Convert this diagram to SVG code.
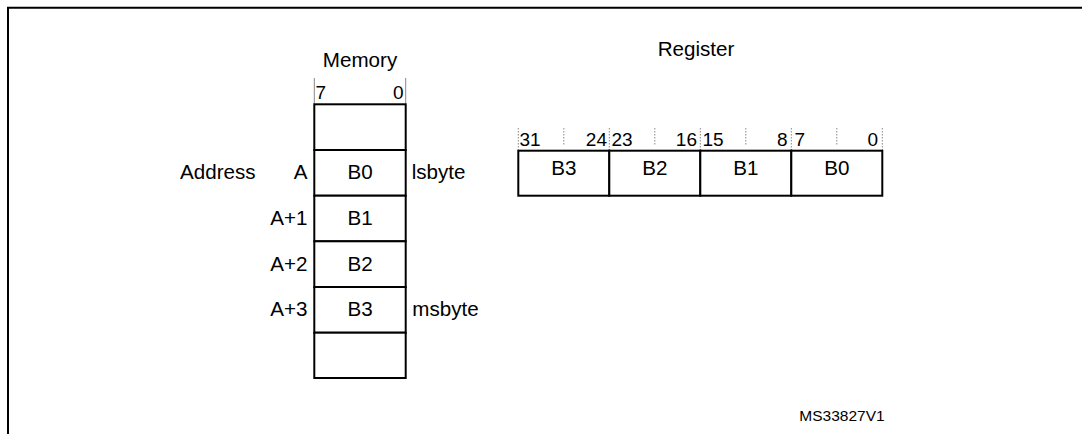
<svg xmlns="http://www.w3.org/2000/svg" width="1082" height="434" viewBox="0 0 1082 434">
<style>
text{font-family:"Liberation Sans",Arial,sans-serif;font-size:20.6px;fill:#000}
.c{text-anchor:middle}
.r{text-anchor:end}
.ruler{font-size:19px}
.box{fill:#fff;stroke:#000;stroke-width:2}
.tick{stroke:#888;stroke-width:1}
.dtick{stroke:#888;stroke-width:1;stroke-dasharray:1.5 1.5}
.small{font-size:15.5px}
</style>
<rect width="1082" height="434" fill="#fff"/>
<g id="frame"><path d="M8 434 V7.7 H1082" fill="none" stroke="#000" stroke-width="2"/></g>
<g id="memory">
<text class="c" x="360" y="67">Memory</text>
<line class="tick" x1="314.3" y1="78" x2="314.3" y2="104"/>
<line class="tick" x1="405.7" y1="78" x2="405.7" y2="104"/>
<text class="ruler" x="315.5" y="99.3">7</text>
<text class="ruler r" x="403.5" y="99.3">0</text>
<rect class="box" x="314.3" y="104.3" width="91.4" height="45.7"/>
<rect class="box" x="314.3" y="150" width="91.4" height="45.7"/>
<rect class="box" x="314.3" y="195.7" width="91.4" height="45.6"/>
<rect class="box" x="314.3" y="241.3" width="91.4" height="45.7"/>
<rect class="box" x="314.3" y="287" width="91.4" height="45.7"/>
<rect class="box" x="314.3" y="332.7" width="91.4" height="45.3"/>
<text x="180" y="179.3">Address</text>
<text class="r" x="307.5" y="179.3">A</text>
<text class="r" x="307.5" y="225">A+1</text>
<text class="r" x="307.5" y="270.7">A+2</text>
<text class="r" x="307.5" y="316.3">A+3</text>
<text class="c" x="360" y="179.3">B0</text>
<text class="c" x="360" y="225">B1</text>
<text class="c" x="360" y="270.7">B2</text>
<text class="c" x="360" y="316.3">B3</text>
<text x="411.7" y="179.3">lsbyte</text>
<text x="412.3" y="316.3">msbyte</text>
</g>
<g id="register">
<text class="c" x="696" y="56">Register</text>
<line class="dtick" x1="518.3" y1="128" x2="518.3" y2="150"/>
<line class="dtick" x1="563.8" y1="128" x2="563.8" y2="146"/>
<line class="dtick" x1="609.3" y1="128" x2="609.3" y2="150"/>
<line class="dtick" x1="654.8" y1="128" x2="654.8" y2="146"/>
<line class="dtick" x1="700.3" y1="128" x2="700.3" y2="150"/>
<line class="dtick" x1="745.8" y1="128" x2="745.8" y2="146"/>
<line class="dtick" x1="791.3" y1="128" x2="791.3" y2="150"/>
<line class="dtick" x1="836.8" y1="128" x2="836.8" y2="146"/>
<line class="dtick" x1="882.3" y1="128" x2="882.3" y2="150"/>
<text class="ruler" x="519.5" y="145.5">31</text>
<text class="ruler r" x="607" y="145.5">24</text>
<text class="ruler" x="611.5" y="145.5">23</text>
<text class="ruler r" x="697" y="145.5">16</text>
<text class="ruler" x="702.5" y="145.5">15</text>
<text class="ruler r" x="787.5" y="145.5">8</text>
<text class="ruler" x="794.5" y="145.5">7</text>
<text class="ruler r" x="878" y="145.5">0</text>
<rect class="box" x="518.3" y="150.7" width="91" height="45"/>
<rect class="box" x="609.3" y="150.7" width="91" height="45"/>
<rect class="box" x="700.3" y="150.7" width="91" height="45"/>
<rect class="box" x="791.3" y="150.7" width="91" height="45"/>
<text class="c" x="563.8" y="175">B3</text>
<text class="c" x="654.8" y="175">B2</text>
<text class="c" x="745.8" y="175">B1</text>
<text class="c" x="836.8" y="175">B0</text>
</g>
<text class="small" x="799.3" y="420.7">MS33827V1</text>
</svg>
